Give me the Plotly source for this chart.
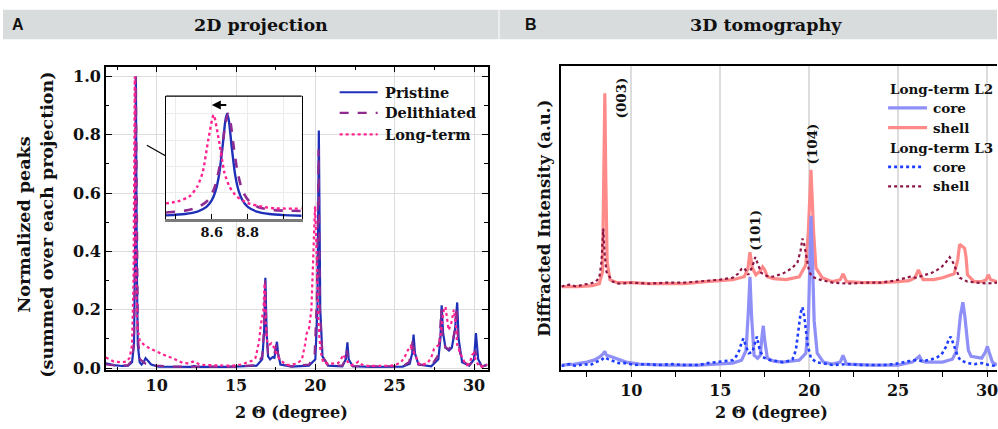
import plotly.graph_objects as go

W, H = 998, 429
SERIF = "DejaVu Serif"
SANS = "Liberation Sans"
INK = "#111111"

# ---------------- Panel A : 2D projection (2-theta [deg], normalized intensity) ----------------
PRISTINE = [(6.8, .016), (7.3, .01), (7.8, .007), (8.2, .008), (8.45, .02), (8.57, .08), (8.63, .35),
            (8.69, 1.0), (8.75, .35), (8.81, .08), (8.93, .02), (9.05, .012), (9.18, .02), (9.3, .034),
            (9.45, .025), (9.65, .012), (10.1, .005), (11.5, .003), (12.2, .004), (12.35, .007), (12.5, .004),
            (14.5, .004), (15.5, .005), (16.3, .008), (16.65, .03), (16.77, .12), (16.85, .31), (16.93, .12),
            (17.02, .04), (17.15, .03), (17.3, .037), (17.42, .035), (17.52, .07), (17.58, .09), (17.65, .05),
            (17.8, .012), (18.5, .005), (19.6, .008), (20.0, .03), (20.13, .2), (20.22, .815), (20.31, .2),
            (20.45, .04), (20.8, .008), (21.7, .006), (21.92, .03), (22.02, .088), (22.1, .03), (22.35, .006),
            (23.5, .004), (25.5, .005), (25.95, .015), (26.1, .05), (26.19, .115), (26.28, .05), (26.5, .012),
            (27.3, .006), (27.75, .03), (27.88, .1), (27.96, .215), (28.05, .12), (28.2, .07), (28.42, .06),
            (28.6, .07), (28.8, .13), (28.94, .225), (29.03, .1), (29.25, .02), (29.7, .008), (30.0, .03),
            (30.12, .12), (30.26, .03), (30.5, .005), (30.85, .012)]
DELITHIATED = [(6.8, .012), (7.5, .008), (8.2, .01), (8.45, .025), (8.57, .09), (8.63, .36), (8.69, 1.0),
               (8.75, .38), (8.82, .1), (8.95, .03), (9.3, .015), (9.6, .012), (10.0, .008), (11.0, .005),
               (12.3, .005), (15.0, .005), (16.3, .01), (16.65, .04), (16.76, .13), (16.84, .3), (16.92, .12),
               (17.02, .05), (17.2, .04), (17.4, .045), (17.5, .07), (17.56, .085), (17.64, .05), (17.8, .015),
               (18.5, .006), (19.6, .012), (19.95, .04), (20.1, .25), (20.2, .75), (20.29, .2), (20.45, .04),
               (20.8, .01), (21.7, .008), (21.9, .03), (21.99, .06), (22.08, .025), (22.35, .006), (25.5, .006),
               (25.9, .02), (26.05, .05), (26.14, .1), (26.24, .045), (26.5, .012), (27.3, .008), (27.7, .04),
               (27.84, .1), (27.93, .2), (28.02, .11), (28.2, .07), (28.4, .065), (28.6, .075), (28.78, .13),
               (28.9, .21), (28.99, .1), (29.2, .025), (29.7, .01), (29.95, .025), (30.08, .06), (30.2, .025),
               (30.5, .005), (30.85, .01)]
LONGTERM = [(6.8, .036), (7.0, .03), (7.3, .022), (7.8, .02), (8.1, .022), (8.3, .035), (8.45, .08), (8.54, .3),
            (8.62, 1.0), (8.69, .35), (8.78, .14), (8.94, .092), (9.2, .08), (9.56, .067), (9.9, .058),
            (10.19, .05), (10.6, .042), (11.0, .034), (11.35, .025), (11.65, .017), (12.0, .016), (12.27, .022),
            (12.45, .02), (12.7, .012), (13.1, .01), (14.0, .008), (14.77, .008), (15.3, .012), (15.6, .017),
            (16.0, .025), (16.23, .035), (16.45, .09), (16.57, .15), (16.65, .17), (16.73, .2), (16.8, .29),
            (16.88, .15), (16.97, .085), (17.1, .08), (17.23, .085), (17.4, .07), (17.55, .05), (17.7, .034),
            (18.0, .018), (18.3, .01), (18.8, .015), (19.15, .028), (19.35, .08), (19.46, .12), (19.6, .135),
            (19.75, .2), (19.88, .4), (19.98, .555), (20.08, .4), (20.2, .15), (20.32, .06), (20.5, .018),
            (21.0, .015), (21.44, .017), (21.62, .03), (21.75, .046), (21.87, .035), (21.96, .03), (22.1, .015),
            (22.27, .01), (22.5, .013), (22.7, .022), (22.9, .013), (23.1, .007), (24.0, .007), (24.77, .008),
            (25.1, .012), (25.4, .02), (25.65, .04), (25.82, .06), (26.0, .075), (26.15, .06), (26.33, .04),
            (26.5, .018), (26.65, .01), (27.06, .017), (27.3, .035), (27.48, .066), (27.65, .075), (27.8, .08),
            (27.95, .14), (28.1, .2), (28.2, .21), (28.3, .17), (28.4, .13), (28.55, .15), (28.73, .2),
            (28.85, .15), (28.94, .08), (29.1, .055), (29.25, .04), (29.4, .02), (29.56, .01), (29.75, .02),
            (29.88, .045), (29.98, .05), (30.1, .03), (30.3, .006), (30.5, .005), (30.85, .012)]

# inset: zoom on the (003) reflection
INSET_PRISTINE = [(8.344, .033), (8.45, .046), (8.52, .069), (8.57, .114), (8.60, .178), (8.62, .261),
                  (8.64, .416), (8.66, .693), (8.675, .933), (8.685, 1.0), (8.695, .933), (8.71, .693),
                  (8.73, .416), (8.75, .261), (8.77, .178), (8.80, .114), (8.85, .069), (8.92, .046),
                  (9.0, .035), (9.1, .030)]
INSET_DELITHIATED = [(8.344, .061), (8.45, .078), (8.52, .107), (8.57, .163), (8.60, .236), (8.62, .324),
                     (8.64, .472), (8.66, .706), (8.675, .905), (8.69, 1.0), (8.705, .905), (8.72, .706),
                     (8.74, .472), (8.76, .324), (8.78, .236), (8.81, .163), (8.86, .11), (8.93, .085),
                     (9.0, .078), (9.1, .075)]
INSET_LONGTERM = [(8.344, .147), (8.42, .17), (8.48, .22), (8.52, .31), (8.55, .45), (8.58, .75), (8.61, .99),
                  (8.64, .74), (8.67, .44), (8.70, .30), (8.74, .21), (8.80, .15), (8.88, .115), (8.95, .10),
                  (9.1, .097)]
INSET_BASELINE = 0.112
INSET_TICKS = [8.4, 8.6, 8.8, 9.0]
INSET_TICKTEXT = ["", "8.6", "8.8", ""]

A_NAMES = ["Pristine", "Delithiated", "Long-term"]

# ---------------- Panel B : 3D tomography (2-theta [deg], diffracted intensity, a.u.) ----------------
L2_CORE = [(6.07, 5), (6.8, 6), (7.5, 8), (7.9, 10), (8.2, 13), (8.4, 16), (8.51, 19), (8.6, 15), (8.8, 14),
           (9.14, 12), (9.4, 10), (9.7, 8), (10.45, 6), (12.0, 5), (13.8, 5), (15.0, 6), (15.7, 7), (16.2, 10),
           (16.45, 20), (16.58, 60), (16.67, 95), (16.76, 55), (16.9, 15), (17.1, 12), (17.25, 15), (17.35, 35),
           (17.42, 45), (17.5, 30), (17.65, 12), (18.0, 9), (18.5, 8), (19.44, 10), (19.81, 17), (19.95, 45),
           (20.05, 135), (20.1, 157), (20.17, 120), (20.28, 50), (20.45, 17), (20.8, 8), (21.3, 6), (21.75, 8),
           (21.9, 15), (22.02, 8), (22.1, 6), (23.5, 5), (25.0, 5), (25.8, 8), (26.05, 12), (26.2, 14),
           (26.35, 9), (26.55, 8), (27.5, 8), (28.05, 11), (28.25, 18), (28.36, 30), (28.5, 55), (28.64, 69),
           (28.75, 55), (28.83, 37), (28.95, 20), (29.1, 14), (29.7, 12), (29.9, 18), (30.02, 24), (30.12, 18),
           (30.3, 8), (30.56, 5)]
L2_SHELL = [(6.07, 85), (7.0, 85), (7.8, 86), (8.2, 88), (8.38, 100), (8.46, 200), (8.51, 282), (8.56, 200),
            (8.64, 110), (8.8, 92), (9.2, 89), (10.0, 89), (11.0, 88), (12.0, 88), (13.0, 88), (14.2, 90),
            (15.0, 91), (15.7, 92), (16.35, 95), (16.55, 103), (16.67, 120), (16.8, 104), (17.0, 97),
            (17.2, 100), (17.38, 105), (17.5, 102), (17.65, 95), (18.0, 93), (18.7, 92), (19.44, 95),
            (19.81, 107), (19.95, 140), (20.1, 204), (20.25, 140), (20.38, 104), (20.73, 94), (21.3, 90),
            (21.75, 92), (21.91, 98), (22.1, 90), (23.0, 89), (24.1, 89), (25.0, 90), (25.62, 91), (25.95, 94),
            (26.14, 102), (26.4, 92), (27.0, 92), (27.5, 94), (28.15, 98), (28.35, 112), (28.46, 128),
            (28.6, 126), (28.74, 124), (28.82, 115), (28.9, 97), (29.27, 90), (29.7, 90), (29.95, 92),
            (30.07, 97), (30.2, 92), (30.56, 90)]
L3_CORE = [(6.07, 4), (6.5, 6), (6.9, 4), (7.3, 6), (7.7, 5), (8.0, 8), (8.3, 10), (8.5, 13), (8.7, 11),
           (9.0, 9), (9.3, 7), (9.7, 7), (10.2, 5), (10.8, 6), (11.5, 5), (12.3, 6), (13.0, 5), (13.8, 5),
           (14.3, 7), (14.8, 8), (15.3, 9), (15.7, 10), (15.9, 14), (16.07, 20), (16.2, 28), (16.3, 32),
           (16.45, 24), (16.6, 17), (16.8, 18), (16.95, 28), (17.06, 34), (17.2, 22), (17.4, 13), (17.8, 10),
           (18.5, 8), (18.8, 9), (19.06, 11), (19.25, 20), (19.38, 40), (19.52, 58), (19.62, 64), (19.72, 55),
           (19.82, 40), (19.92, 25), (20.1, 12), (20.4, 8), (21.3, 5), (22.2, 6), (23.0, 5), (24.1, 5),
           (24.8, 6), (25.3, 8), (25.62, 9), (26.0, 10), (26.4, 9), (26.9, 11), (27.2, 13), (27.45, 16),
           (27.7, 24), (27.85, 31), (27.96, 34), (28.08, 28), (28.24, 20), (28.35, 14), (28.5, 10), (28.9, 7),
           (29.3, 6), (29.7, 7), (30.1, 5), (30.56, 4)]
L3_SHELL = [(6.07, 85), (6.5, 87), (6.9, 85), (7.3, 87), (7.7, 88), (8.0, 90), (8.2, 94), (8.32, 110),
            (8.42, 144), (8.5, 118), (8.6, 100), (8.7, 97), (8.95, 90), (9.3, 88), (10.06, 89), (11.0, 88),
            (12.0, 89), (13.0, 89), (13.82, 90), (14.5, 91), (15.0, 92), (15.7, 94), (16.0, 98), (16.2, 103),
            (16.35, 104), (16.57, 97), (16.8, 105), (16.97, 115), (17.12, 108), (17.3, 99), (17.6, 96),
            (17.94, 95), (18.5, 98), (19.06, 104), (19.35, 110), (19.52, 122), (19.62, 134), (19.72, 128),
            (19.85, 115), (20.0, 100), (20.17, 95), (20.6, 92), (21.3, 89), (22.2, 88), (23.2, 89), (24.0, 89),
            (24.8, 91), (25.5, 94), (25.7, 95), (26.0, 94), (26.4, 96), (26.9, 99), (27.2, 102), (27.45, 105),
            (27.7, 110), (27.9, 115), (28.05, 111), (28.2, 105), (28.35, 98), (28.46, 94), (28.9, 90),
            (29.5, 89), (30.0, 88), (30.56, 89)]
PEAK_LABELS = ["(003)", "(101)", "(104)"]
PEAK_LABEL_X = [9.44, 16.91, 20.17]
PEAK_LABEL_Y = [277, 142, 230]
B_GROUPS = ["Long-term L2", "Long-term L3"]
B_NAMES = ["core", "shell"]

# ---------------- styles ----------------
C_PRI, C_DEL, C_LT = "#1f30b8", "#8e2b92", "#ff2290"
C_L2C, C_L2S, C_L3C, C_L3S = "#8f8ff8", "#ff8a8a", "#1f3dff", "#8b1545"
GRID = "#dddddd"


def px(x):
    return x / W


def py(y):
    return 1 - y / H


def split(pairs):
    return [p[0] for p in pairs], [p[1] for p in pairs]


fig = go.Figure()

# panel A main
a_series = [(PRISTINE, C_PRI, "solid", 2.2), (DELITHIATED, C_DEL, "dash", 2.2), (LONGTERM, C_LT, "dot", 2.2)]
for name, (data, col, dash, wd) in zip(A_NAMES, a_series):
    x, y = split(data)
    fig.add_trace(go.Scatter(x=x, y=y, mode="lines", name=name, xaxis="x", yaxis="y",
                             line=dict(color=col, width=wd, dash=dash), showlegend=False))
# panel A inset
inset_series = [(INSET_PRISTINE, C_PRI, "solid", 2.4), (INSET_DELITHIATED, C_DEL, "dash", 2.6),
                (INSET_LONGTERM, C_LT, "dot", 2.4)]
for name, (data, col, dash, wd) in zip(A_NAMES, inset_series):
    x, y = split(data)
    fig.add_trace(go.Scatter(x=x, y=y, mode="lines", name=name, xaxis="x3", yaxis="y3",
                             line=dict(color=col, width=wd, dash=dash, shape="spline", smoothing=0.6),
                             showlegend=False))

# panel B
b_series = [("Long-term L2 shell", L2_SHELL, C_L2S, "solid", 3.2), ("Long-term L2 core", L2_CORE, C_L2C, "solid", 3.2),
            ("Long-term L3 core", L3_CORE, C_L3C, "dot", 2.6), ("Long-term L3 shell", L3_SHELL, C_L3S, "dot", 2.2)]
for name, data, col, dash, wd in b_series:
    x, y = split(data)
    fig.add_trace(go.Scatter(x=x, y=y, mode="lines", name=name, xaxis="x2", yaxis="y2",
                             line=dict(color=col, width=wd, dash=dash), showlegend=False))

tickfont = dict(family=SERIF, size=16, color=INK, weight="bold")
frame = dict(showline=True, linecolor="black", linewidth=1.5, zeroline=False)

fig.update_layout(
    width=W, height=H, autosize=False,
    margin=dict(l=0, r=0, t=0, b=0),
    paper_bgcolor="white", plot_bgcolor="white",
    showlegend=False,
    xaxis=dict(domain=[px(106), px(488)], range=[6.8, 30.85], anchor="y", mirror="ticks",
               ticks="inside", ticklen=6, tickwidth=1.3, tickcolor="black", dtick=5, tick0=0,
               minor=dict(dtick=2.5, ticks="inside", ticklen=3.5, tickcolor="black", showgrid=False),
               showgrid=True, gridcolor=GRID, gridwidth=1, tickfont=tickfont, **frame),
    yaxis=dict(domain=[py(377), py(68)], range=[-0.0067, 1.0337], anchor="x", mirror="ticks",
               ticks="inside", ticklen=6, tickwidth=1.3, tickcolor="black", dtick=0.2, tick0=0,
               tickformat=".1f",
               minor=dict(dtick=0.1, ticks="inside", ticklen=3.5, tickcolor="black", showgrid=False),
               showgrid=True, gridcolor=GRID, gridwidth=1, tickfont=tickfont, **frame),
    xaxis2=dict(domain=[px(562), 1.0], range=[6.07, 30.56], anchor="y2", ticklabeloverflow="allow",
                ticks="outside", ticklen=5, tickwidth=1.3, tickcolor="black", dtick=5, tick0=0,
                minor=dict(dtick=2.5, ticks="outside", ticklen=5, tickcolor="black", showgrid=False),
                showgrid=True, gridcolor=GRID, gridwidth=1.5, tickfont=tickfont, mirror=True, **frame),
    xaxis4=dict(overlaying="x2", side="top", range=[6.07, 30.56], anchor="y2", showline=False,
                ticks="inside", ticklen=5, tickwidth=1.3, tickcolor="black", dtick=5, tick0=0,
                minor=dict(dtick=2.5, ticks="inside", ticklen=5, tickcolor="black", showgrid=False),
                showgrid=False, showticklabels=False, zeroline=False),
    yaxis2=dict(domain=[py(377), py(67)], range=[0, 310], anchor="x2", ticks="",
                showticklabels=False, showgrid=False, **frame),
    xaxis3=dict(domain=[px(166), px(302)], range=[8.344, 9.1], anchor="y3",
                tickvals=INSET_TICKS, ticktext=INSET_TICKTEXT, ticks="inside", ticklen=5, tickwidth=1.3,
                tickcolor="black", showline=True, linecolor="#7a7a7a", linewidth=2.5, zeroline=False,
                showgrid=True, gridcolor="#ececec", gridwidth=1,
                tickfont=dict(family=SERIF, size=13, color=INK, weight="bold")),
    yaxis3=dict(domain=[py(223), py(98)], range=[0, 1.168], anchor="x3", showline=True,
                linecolor="black", linewidth=1.3, mirror=True, showticklabels=False, ticks="",
                showgrid=True, gridcolor="#ececec", dtick=0.25, zeroline=False),
)

shapes = []
annotations = []

# header bands
shapes.append(dict(type="rect", xref="paper", yref="paper", x0=px(3), x1=px(499), y0=py(40), y1=py(10),
                   fillcolor="#d9dcdc", line=dict(width=0), layer="below"))
shapes.append(dict(type="rect", xref="paper", yref="paper", x0=px(500), x1=1.0, y0=py(40), y1=py(10),
                   fillcolor="#d9dcdc", line=dict(width=0), layer="below"))
annotations += [
    dict(text="A", x=px(18.5), y=py(25), font=dict(family=SANS, size=16, color=INK, weight="bold")),
    dict(text="B", x=px(532), y=py(25), font=dict(family=SANS, size=16, color=INK, weight="bold")),
    dict(text="2D projection", x=px(261), y=py(25), font=dict(family=SERIF, size=17.5, color=INK, weight="bold")),
    dict(text="3D tomography", x=px(767), y=py(25), font=dict(family=SERIF, size=17.5, color=INK, weight="bold")),
    dict(text="2 Θ (degree)", x=px(292), y=py(420), font=dict(family=SERIF, size=16, color=INK, weight="bold")),
    dict(text="2 Θ (degree)", x=px(772), y=py(420), font=dict(family=SERIF, size=16, color=INK, weight="bold")),
    dict(text="Normalized peaks<br>(summed over each projection)", x=px(36), y=py(229), textangle=-90,
         font=dict(family=SERIF, size=17.5, color=INK, weight="bold")),
    dict(text="Diffracted Intensity (a.u.)", x=px(545.5), y=py(222), textangle=-90,
         font=dict(family=SERIF, size=16.5, color=INK, weight="bold")),
]
for a in annotations:
    a.update(xref="paper", yref="paper", showarrow=False, xanchor="center", yanchor="middle")

# inset frame top, connector, arrow and baseline
shapes.append(dict(type="line", xref="paper", yref="paper", x0=px(166), x1=px(302), y0=py(98), y1=py(98),
                   line=dict(color="black", width=1.3)))
shapes.append(dict(type="line", xref="paper", yref="paper", x0=px(147), x1=px(166), y0=py(148), y1=py(159),
                   line=dict(color="black", width=1.2)))
shapes.append(dict(type="line", xref="x3 domain", yref="y3", x0=0, x1=1, y0=INSET_BASELINE, y1=INSET_BASELINE,
                   line=dict(color="#8a8a8a", width=3), layer="below"))
annotations.append(dict(x=px(212), y=py(107), xref="paper", yref="paper", ax=16, ay=0, text="",
                        showarrow=True, arrowhead=2, arrowsize=0.9, arrowwidth=2, arrowcolor="black"))

# panel A legend
a_leg_y = [94, 115, 137]
for name, (data, col, dash, wd), yy in zip(A_NAMES, a_series, a_leg_y):
    shapes.append(dict(type="line", xref="paper", yref="paper", x0=px(340), x1=px(378), y0=py(yy), y1=py(yy),
                       line=dict(color=col, width=2.2, dash=dash)))
    annotations.append(dict(text=name, x=px(383), y=py(yy), xref="paper", yref="paper", showarrow=False,
                            xanchor="left", yanchor="middle",
                            font=dict(family=SERIF, size=14.5, color=INK, weight="bold")))

# panel B legend
b_leg = [(B_GROUPS[0], None, 91), (B_NAMES[0], b_series[1], 110), (B_NAMES[1], b_series[0], 130),
         (B_GROUPS[1], None, 151), (B_NAMES[0], b_series[2], 170), (B_NAMES[1], b_series[3], 190)]
for text, ser, yy in b_leg:
    if ser is None:
        annotations.append(dict(text=text, x=px(889), y=py(yy), xref="paper", yref="paper", showarrow=False,
                                xanchor="left", yanchor="middle",
                                font=dict(family=SERIF, size=13.5, color=INK, weight="bold")))
    else:
        _, _, col, dash, wd = ser
        x1 = 928 if dash == "solid" else 925
        shapes.append(dict(type="line", xref="paper", yref="paper", x0=px(889), x1=px(x1), y0=py(yy), y1=py(yy),
                           line=dict(color=col, width=wd, dash=dash)))
        annotations.append(dict(text=text, x=px(932), y=py(yy), xref="paper", yref="paper", showarrow=False,
                                xanchor="left", yanchor="middle",
                                font=dict(family=SERIF, size=13.5, color=INK, weight="bold")))

# panel B peak labels
for lab, lx, ly in zip(PEAK_LABELS, PEAK_LABEL_X, PEAK_LABEL_Y):
    annotations.append(dict(text=lab, x=lx, y=ly, xref="x2", yref="y2", showarrow=False, textangle=-90,
                            xanchor="center", yanchor="middle",
                            font=dict(family=SERIF, size=13.5, color=INK, weight="bold")))

fig.update_layout(shapes=shapes, annotations=annotations)
fig.write_html("out.html")
